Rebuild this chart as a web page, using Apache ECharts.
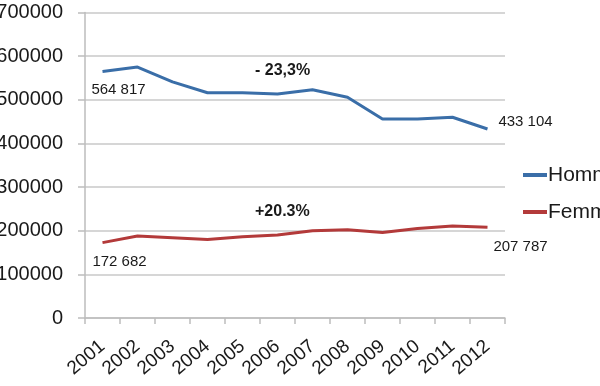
<!DOCTYPE html>
<html><head><meta charset="utf-8">
<script src="https://cdn.jsdelivr.net/npm/echarts@6/dist/echarts.min.js"></script>
<style>html,body{margin:0;padding:0;background:#fff}#c{width:600px;height:386px}</style>
</head><body><div id="c"></div>
<script>
const years = ['2001','2002','2003','2004','2005','2006','2007','2008','2009','2010','2011','2012'];
const hommes = [564817, 575000, 541000, 516000, 516000, 513000, 523000, 506000, 456000, 456000, 460000, 433104];
const femmes = [172682, 188000, 184000, 180000, 186000, 190000, 200000, 202000, 196000, 205000, 211000, 207787];
const yTicks = {min: 0, max: 700000, interval: 100000};
const firstLastLabels = {
  hommes: ['564 817', '433 104'],
  femmes: ['172 682', '207 787']
};
const changes = ['- 23,3%', '+20.3%'];

const font = 'Liberation Sans, Arial, sans-serif';
function withLabels(vals, texts, offFirst, offLast) {
  return vals.map((v, i) => {
    if (i === 0) return {value: v, label: {show: true, formatter: texts[0], offset: offFirst, position: 'inside'}};
    if (i === vals.length - 1) return {value: v, label: {show: true, formatter: texts[1], offset: offLast, position: 'inside'}};
    return v;
  });
}
const labelStyle = {color: '#1a1a1a', fontSize: 15, fontFamily: font};
const chart = echarts.init(document.getElementById('c'));
chart.setOption({
  animation: false,
  grid: {left: 85, right: 95, top: 12.5, bottom: 68, containLabel: false, outerBoundsMode: 'none'},
  legend: {
    orient: 'vertical', left: 523, top: 164, itemGap: 15, padding: 0,
    icon: 'rect', itemWidth: 24, itemHeight: 4,
    textStyle: {fontSize: 21, lineHeight: 22, color: '#1a1a1a', fontFamily: font, padding: [0,0,0,-4]},
    data: ['Hommes', 'Femmes']
  },
  xAxis: {
    type: 'category', data: years, boundaryGap: true,
    axisLine: {lineStyle: {color: '#bdbdbd', width: 1.5}},
    axisTick: {show: true, length: 6, lineStyle: {color: '#bdbdbd', width: 1.5}},
    axisLabel: {interval: 0, rotate: 40, fontSize: 19, color: '#1a1a1a', fontFamily: font, margin: 26}
  },
  yAxis: {
    type: 'value', min: yTicks.min, max: yTicks.max, interval: yTicks.interval,
    axisLine: {show: true, lineStyle: {color: '#bdbdbd', width: 1.5}},
    axisTick: {show: true, length: 7, lineStyle: {color: '#bdbdbd', width: 1.5}},
    splitLine: {lineStyle: {color: '#c8c8c8', width: 1.5}},
    axisLabel: {fontSize: 20, color: '#1a1a1a', fontFamily: font, margin: 22, formatter: v => String(v)}
  },
  series: [
    {
      name: 'Hommes', type: 'line', data: withLabels(hommes, firstLastLabels.hommes, [16, 18], [38, -7]),
      symbol: 'circle', symbolSize: 0.1, showSymbol: true, lineStyle: {color: '#3a6ea8', width: 3}, itemStyle: {color: '#3a6ea8'},
      label: labelStyle
    },
    {
      name: 'Femmes', type: 'line', data: withLabels(femmes, firstLastLabels.femmes, [17, 19], [33, 20]),
      symbol: 'circle', symbolSize: 0.1, showSymbol: true, lineStyle: {color: '#b33a3a', width: 3}, itemStyle: {color: '#b33a3a'},
      label: labelStyle
    }
  ],
  graphic: [
    {type: 'text', left: 255, top: 63, style: {text: changes[0], font: 'bold 16px ' + font, fill: '#1a1a1a'}},
    {type: 'text', left: 255, top: 204, style: {text: changes[1], font: 'bold 16px ' + font, fill: '#1a1a1a'}}
  ]
});
</script></body></html>
